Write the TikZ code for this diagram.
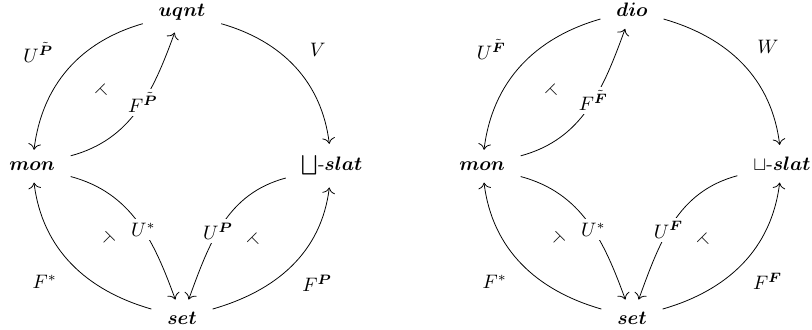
\documentclass[tikz,border=0pt]{standalone}
\usepackage{amsmath}
\usetikzlibrary{arrows.meta, positioning}

\begin{document}
\begin{tikzpicture}[
    obj/.style={anchor=base, inner xsep=8pt, inner ysep=6pt},
    lbl/.style={inner sep=0.333em},
    desc/.style={fill=white, inner sep=2pt},
    adj/.style={inner sep=0pt},
    arrow/.style={-{Computer Modern Rightarrow[scale=1.25]}}
  ]
  \useasboundingbox (-3.282,3.075) rectangle (11.361,-2.858);

  \node[obj] (uqnt) at (0,2.773) {$\boldsymbol{uqnt}$};
  \node[obj] (mon) at (-2.705,0) {$\boldsymbol{mon}$};
  \node[obj] (slat) at (2.705,0) {$\bigsqcup$-$\boldsymbol{slat}$};
  \node[obj] (set) at (0,-2.768) {$\boldsymbol{set}$};

  \draw[arrow] (uqnt) to[out=196, in=83] node[lbl, above left=0pt and 4pt] (uP) {$U^{\tilde{\boldsymbol{P}}}$} (mon);
  \draw[arrow] (mon) to[out=15, in=250] node[desc, pos=.56] (fP) {$F^{\tilde{\boldsymbol{P}}}$} (uqnt);
  \draw[arrow] (uqnt) to[out=-16, in=97] node[lbl, above right=2pt and 4pt] (v) {$V$} (slat);
  \draw[arrow] (mon) to[out=-15, in=110] node[desc, pos=.56] (uStar) {$U^*$} (set);
  \draw[arrow] (set) to[out=164, in=277] node[lbl, below left=2pt and 4pt] (fStar) {$F^*$} (mon);
  \draw[arrow] (slat) to[out=195, in=70] node[desc, pos=.56] (uPow) {$U^{\boldsymbol{P}}$} (set);
  \draw[arrow] (set) to[out=16, in=263] node[lbl, below right=1pt and 2pt] (fPow) {$F^{\boldsymbol{P}}$} (slat);

  \node[adj, rotate=-45] (adjA) at (-1.42,1.42) {$\vdash$};
  \node[adj, rotate=45] (adjB) at (-1.35,-1.24) {$\dashv$};
  \node[adj, rotate=-45] (adjC) at (1.32,-1.27) {$\vdash$};

  \node[obj] (dio) at (8.115,2.773) {$\boldsymbol{dio}$};
  \node[obj] (monB) at (5.41,0) {$\boldsymbol{mon}$};
  \node[obj] (slatB) at (10.82,0) {$\sqcup$-$\boldsymbol{slat}$};
  \node[obj] (setB) at (8.115,-2.768) {$\boldsymbol{set}$};

  \draw[arrow] (dio) to[out=196, in=83] node[lbl, above left=0pt and 4pt] (uF) {$U^{\tilde{\boldsymbol{F}}}$} (monB);
  \draw[arrow] (monB) to[out=15, in=250] node[desc, pos=.56] (fF) {$F^{\tilde{\boldsymbol{F}}}$} (dio);
  \draw[arrow] (dio) to[out=-16, in=97] node[lbl, above right=2pt and 4pt] (w) {$W$} (slatB);
  \draw[arrow] (monB) to[out=-15, in=110] node[desc, pos=.56] (uStarB) {$U^*$} (setB);
  \draw[arrow] (setB) to[out=164, in=277] node[lbl, below left=2pt and 4pt] (fStarB) {$F^*$} (monB);
  \draw[arrow] (slatB) to[out=195, in=70] node[desc, pos=.56] (uFil) {$U^{\boldsymbol{F}}$} (setB);
  \draw[arrow] (setB) to[out=16, in=263] node[lbl, below right=1pt and 2pt] (fFil) {$F^{\boldsymbol{F}}$} (slatB);

  \node[adj, rotate=-45] (adjD) at (6.695,1.42) {$\vdash$};
  \node[adj, rotate=45] (adjE) at (6.765,-1.24) {$\dashv$};
  \node[adj, rotate=-45] (adjF) at (9.435,-1.27) {$\vdash$};
\end{tikzpicture}
\end{document}
